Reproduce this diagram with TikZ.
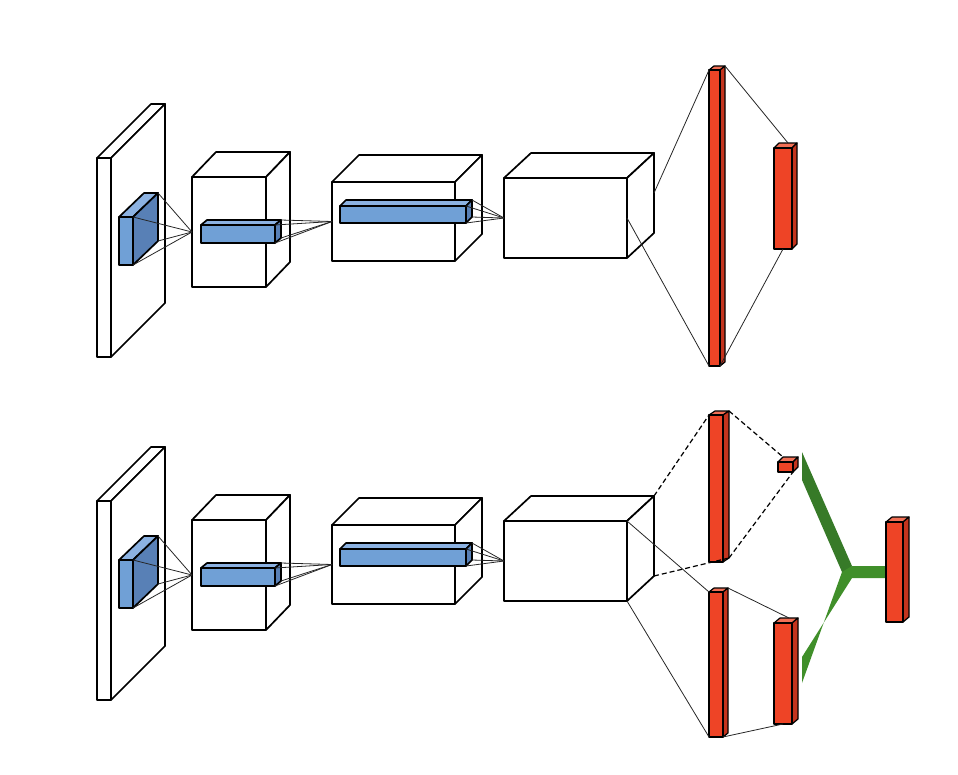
\documentclass[tikz,border=0pt]{standalone}
\usetikzlibrary{calc}
\definecolor{whitefront}{RGB}{255,255,255}
\definecolor{whiteside}{RGB}{255,255,255}
\definecolor{whitetop}{RGB}{255,255,255}
\definecolor{bluefront}{RGB}{112,160,214}
\definecolor{blueside}{RGB}{88,128,182}
\definecolor{bluetop}{RGB}{140,178,226}
\definecolor{redfront}{RGB}{238,68,38}
\definecolor{redside}{RGB}{196,52,30}
\definecolor{redtop}{RGB}{242,112,86}
\definecolor{greenup}{RGB}{55,122,40}
\definecolor{greenlow}{RGB}{64,143,42}
\tikzset{
  box/.style={draw=black, line width=1.7pt, line join=round},
  bar/.style={draw=black, line width=1.2pt, line join=round},
  link/.style={draw=black!85, line width=0.8pt},
  dashlink/.style={draw=black, line width=1.2pt, dash pattern=on 5pt off 3pt}
}
% name, x, y, width, height, depth x, depth y, style, colour
\newcommand{\cuboid}[9]{%
  \coordinate (#1-ftl) at ({#2},{#3});
  \coordinate (#1-ftr) at ({#2+#4},{#3});
  \coordinate (#1-fbr) at ({#2+#4},{#3+#5});
  \coordinate (#1-fbl) at ({#2},{#3+#5});
  \coordinate (#1-btl) at ({#2+#6},{#3-#7});
  \coordinate (#1-btr) at ({#2+#4+#6},{#3-#7});
  \coordinate (#1-bbr) at ({#2+#4+#6},{#3+#5-#7});
  \draw[#8, fill=#9top] (#1-ftl) -- (#1-btl) -- (#1-btr) -- (#1-ftr) -- cycle;
  \draw[#8, fill=#9side] (#1-ftr) -- (#1-btr) -- (#1-bbr) -- (#1-fbr) -- cycle;
  \draw[#8, fill=#9front] (#1-ftl) rectangle (#1-fbr);
}

\begin{document}
\begin{tikzpicture}[x=1pt,y=-1pt]
\useasboundingbox (0,0) rectangle (958,774);
% the two conv stacks
\foreach \r/\s in {a/0,b/343}{
  \cuboid{slab\r}{97}{158+\s}{14}{199}{54}{54}{box}{white}
  \cuboid{cell\r}{119}{217+\s}{14}{48}{25}{24}{box}{blue}
  \cuboid{convA\r}{192}{177+\s}{74}{110}{24}{25}{box}{white}
  \cuboid{rowA\r}{201}{225+\s}{74}{18}{6}{5}{box}{blue}
  \cuboid{convB\r}{332}{182+\s}{123}{79}{27}{27}{box}{white}
  \cuboid{rowB\r}{340}{206+\s}{126}{17}{6}{6}{box}{blue}
  \cuboid{convC\r}{504}{178+\s}{123}{80}{27}{25}{box}{white}
  \coordinate (inA\r) at ($(convA\r-ftl)!0.5!(convA\r-fbl)$);
  \coordinate (inB\r) at ($(convB\r-ftl)!0.5!(convB\r-fbl)$);
  \coordinate (inC\r) at ($(convC\r-ftl)!0.5!(convC\r-fbl)$);
  \foreach \c in {btr,ftr,bbr,fbr}{
    \draw[link] (cell\r-\c) -- (inA\r);
    \draw[link] (rowA\r-\c) -- (inB\r);
    \draw[link] (rowB\r-\c) -- (inC\r);
  }
}
% top: fully connected
\cuboid{fcA}{709}{70}{11}{296}{5}{4}{bar}{red}
\cuboid{outA}{774}{148}{18}{101}{5}{5}{bar}{red}
\coordinate (sideA) at ($(convCa-btr)!0.5!(convCa-bbr)$);
\coordinate (faceA) at ($(convCa-ftr)!0.5!(convCa-fbr)$);
\coordinate (outAtop) at ($(outA-btl)!0.5!(outA-btr)$);
\coordinate (outAbot) at ($(outA-fbl)!0.5!(outA-fbr)$);
\draw[link] (sideA) -- (fcA-ftl);
\draw[link] (faceA) -- (fcA-fbl);
\draw[link] (fcA-btr) -- (outAtop);
\draw[link] (fcA-fbr) -- (outAbot);
% bottom: two heads
\fill[greenup] (802,452) -- (852,566) -- (847,572) -- (842,572) -- (802,480) -- cycle;
\fill[greenlow] (842,572) -- (852,566) -- (887,566) -- (887,578) -- (852,578) -- (802,657) -- (802,683) -- cycle;
\cuboid{fcB}{709}{415}{14}{147}{6}{4}{bar}{red}
\cuboid{gate}{778}{462}{15}{10}{5}{5}{bar}{red}
\cuboid{fcC}{709}{592}{14}{145}{5}{4}{bar}{red}
\cuboid{outB}{774}{623}{18}{101}{6}{5}{bar}{red}
\cuboid{merged}{886}{522}{17}{100}{6}{5}{bar}{red}
\draw[dashlink] (convCb-btr) -- (fcB-ftl);
\draw[dashlink] (convCb-bbr) -- (fcB-bbr);
\draw[dashlink] (fcB-btr) -- (gate-btl);
\draw[dashlink] (fcB-bbr) -- (gate-fbr);
\coordinate (outBtop) at ($(outB-btl)!0.5!(outB-btr)$);
\coordinate (outBbot) at ($(outB-fbl)!0.5!(outB-fbr)$);
\draw[link] (convCb-ftr) -- (fcC-ftl);
\draw[link] (convCb-fbr) -- (fcC-fbl);
\draw[link] (fcC-btr) -- (outBtop);
\draw[link] (fcC-fbr) -- (outBbot);
\end{tikzpicture}
\end{document}
